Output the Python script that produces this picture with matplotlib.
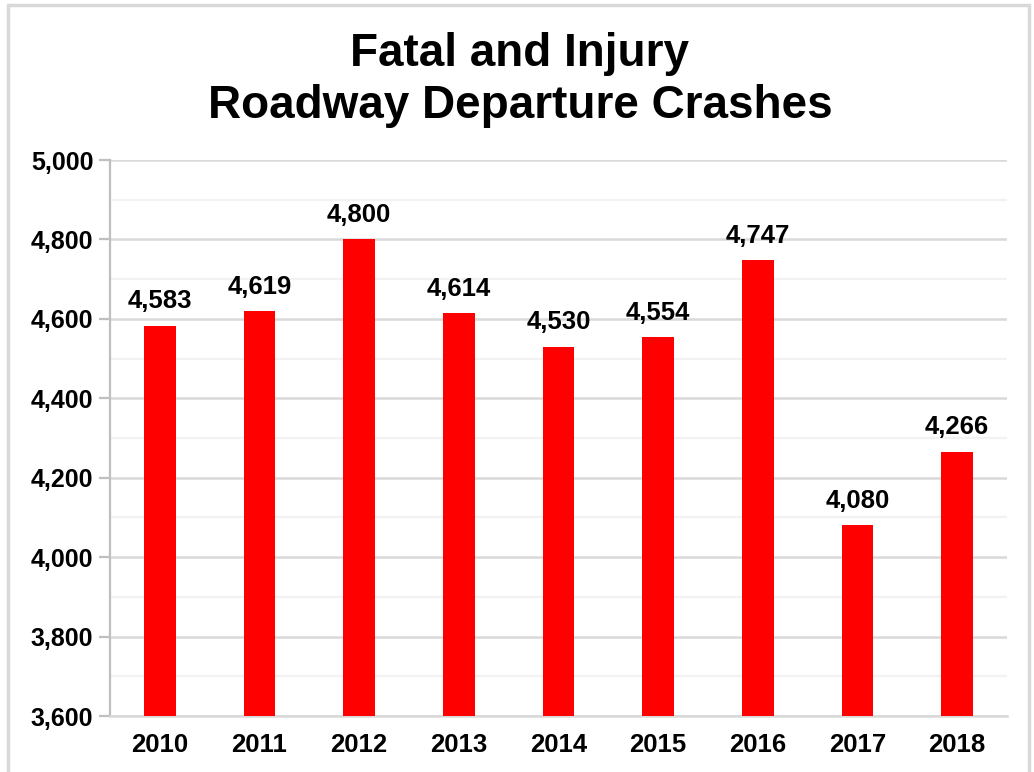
import matplotlib.pyplot as plt
from matplotlib.ticker import MultipleLocator, FuncFormatter
from matplotlib.patches import Rectangle

years = ['2010', '2011', '2012', '2013', '2014', '2015', '2016', '2017', '2018']
crashes = [4583, 4619, 4800, 4614, 4530, 4554, 4747, 4080, 4266]

plt.rcParams['font.family'] = ['Liberation Sans', 'DejaVu Sans']
plt.rcParams['font.weight'] = 'bold'

fig = plt.figure(figsize=(10.34, 7.72), dpi=100)
ax = fig.add_axes([110 / 1034, 1 - 716 / 772, (1007 - 110) / 1034, (716 - 160) / 772])

# outer chart border
fig.patches.append(Rectangle((8 / 1034, -0.05), (1029 - 8) / 1034, 1.05 - 5 / 772,
                             transform=fig.transFigure, fill=False,
                             edgecolor='#d9d9d9', linewidth=2.5))

x = range(len(years))
ax.bar(x, crashes, width=0.32, color='#ff0000', zorder=3)
for i, v in enumerate(crashes):
    ax.annotate('{:,}'.format(v), (i, v), xytext=(0, 9), textcoords='offset points',
                ha='center', va='bottom', fontsize=18.5, fontweight='bold')

ax.set_xlim(-0.5, len(years) - 0.5)
ax.set_ylim(3600, 5000)
ax.yaxis.set_major_locator(MultipleLocator(200))
ax.yaxis.set_minor_locator(MultipleLocator(100))
ax.yaxis.set_major_formatter(FuncFormatter(lambda v, p: '{:,.0f}'.format(v)))
ax.grid(axis='y', which='major', color='#d9d9d9', linewidth=1.8, zorder=0)
ax.grid(axis='y', which='minor', color='#f2f2f2', linewidth=1.6, zorder=0)
ax.set_xticks(list(x))
ax.set_xticklabels(years)

for s in ['top', 'right']:
    ax.spines[s].set_visible(False)
ax.spines['left'].set_color('#bfbfbf')
ax.spines['left'].set_linewidth(1.6)
ax.spines['bottom'].set_color('#d9d9d9')
ax.spines['bottom'].set_linewidth(1.8)

ax.tick_params(axis='y', which='major', length=8, width=1.6, color='#bfbfbf',
               labelsize=18, pad=4)
ax.tick_params(axis='y', which='minor', length=0)
ax.tick_params(axis='x', length=0, labelsize=18.5, pad=12)
for lab in ax.get_xticklabels() + ax.get_yticklabels():
    lab.set_fontweight('bold')

fig.text(520 / 1034, 1 - 80 / 772, 'Fatal and Injury\nRoadway Departure Crashes',
         ha='center', va='center', fontsize=33, fontweight='bold', linespacing=1.22)

fig.savefig('out.png', dpi=100)
